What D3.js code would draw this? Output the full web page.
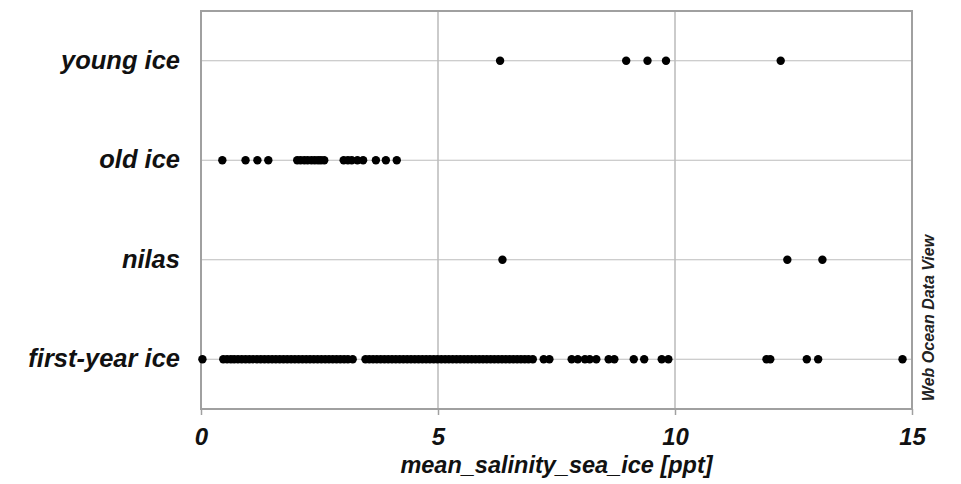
<!DOCTYPE html>
<html>
<head>
<meta charset="utf-8">
<script src="https://cdn.jsdelivr.net/npm/d3@7"></script>
<style>
  body { margin: 0; background: #fff; }
  text { font-family: "Liberation Sans", Arial, sans-serif; font-weight: bold; font-style: italic; }
</style>
</head>
<body>
<svg id="chart" width="961" height="484"></svg>
<script>
(function(){

    // categories, top to bottom
    var categories = ["young ice", "old ice", "nilas", "first-year ice"];

    // mean salinity values (ppt)
    var youngIce = [6.31, 8.97, 9.42, 9.81, 12.23];
    var oldIce = [0.45, 0.94, 1.19, 1.42, 2.03, 2.1, 2.18, 2.25, 2.33, 2.4, 2.47, 2.53, 2.6,
                  3.01, 3.1, 3.18, 3.3, 3.42, 3.69, 3.9, 4.13];
    var nilas = [6.36, 12.37, 13.11];
    var firstYearIce = [0.03, 0.47, 0.55, 0.63, 0.7, 0.78, 0.86, 0.94, 1.02, 1.1, 1.18, 1.26, 1.34,
                        1.42, 1.5, 1.58, 1.66, 1.74, 1.82, 1.9, 1.98, 2.06, 2.14, 2.22, 2.3, 2.38,
                        2.46, 2.54, 2.62, 2.7, 2.78, 2.86, 2.94, 3.02, 3.1, 3.2,
                        3.47, 3.55, 3.63, 3.71, 3.79, 3.87, 3.95, 4.03, 4.11, 4.19, 4.27, 4.35,
                        4.43, 4.51, 4.59, 4.67, 4.75, 4.83, 4.91, 4.99, 5.07, 5.15, 5.23, 5.31,
                        5.39, 5.47, 5.55, 5.63, 5.71, 5.79, 5.87, 5.95, 6.03, 6.11, 6.19, 6.27,
                        6.35, 6.43, 6.51, 6.59, 6.67, 6.75, 6.83, 6.91, 7.0, 7.23, 7.35,
                        7.82, 7.95, 8.1, 8.2, 8.34, 8.6, 8.72, 9.13, 9.35, 9.72, 9.86,
                        11.93, 12.01, 12.78, 13.02, 14.8];

    var xTicks = [0, 5, 10, 15];

    var seriesByCategory = {
        "young ice": youngIce,
        "old ice": oldIce,
        "nilas": nilas,
        "first-year ice": firstYearIce
    };

    var svg = d3.select("#chart"),
        margin = { top: 11, right: 49, bottom: 75, left: 201 },
        width = +svg.attr("width") - margin.left - margin.right,
        height = +svg.attr("height") - margin.top - margin.bottom,
        g = svg.append("g").attr("transform", "translate(" + margin.left + "," + margin.top + ")");

    var x = d3.scaleLinear().domain([0, 15]).range([0, width]);
    var y = d3.scalePoint().domain(categories).range([0, height]).padding(0.5);

    // grid
    g.append("g").selectAll("line.vgrid")
        .data(xTicks.slice(1, -1))
        .enter().append("line")
        .attr("x1", function (d) { return x(d); })
        .attr("x2", function (d) { return x(d); })
        .attr("y1", 0).attr("y2", height)
        .attr("stroke", "#a8a8a8").attr("stroke-width", 1.2);

    g.append("g").selectAll("line.hgrid")
        .data(categories)
        .enter().append("line")
        .attr("x1", 0).attr("x2", width)
        .attr("y1", function (d) { return y(d); })
        .attr("y2", function (d) { return y(d); })
        .attr("stroke", "#bdbdbd").attr("stroke-width", 1.2);

    // frame
    g.append("rect")
        .attr("width", width).attr("height", height)
        .attr("fill", "none").attr("stroke", "#a0a0a0").attr("stroke-width", 2);

    // x axis
    var xAxis = g.append("g")
        .attr("transform", "translate(0," + height + ")")
        .call(d3.axisBottom(x).tickValues(xTicks).tickSize(6).tickPadding(13));
    xAxis.select(".domain").remove();
    xAxis.selectAll(".tick line").attr("stroke", "#a0a0a0").attr("stroke-width", 1.5);
    xAxis.selectAll(".tick text")
        .attr("fill", "#111")
        .style("font-size", "24px")
        .style("font-family", "'Liberation Sans', Arial, sans-serif")
        .style("font-weight", "bold").style("font-style", "italic");

    // y axis labels
    var yAxis = g.append("g")
        .call(d3.axisLeft(y).tickSize(0).tickPadding(21));
    yAxis.select(".domain").remove();
    yAxis.selectAll(".tick text")
        .attr("fill", "#111")
        .attr("dy", "0.3em")
        .style("font-size", "25.5px")
        .style("font-family", "'Liberation Sans', Arial, sans-serif")
        .style("font-weight", "bold").style("font-style", "italic");

    // points
    var points = [];
    categories.forEach(function (c) {
        seriesByCategory[c].forEach(function (v) { points.push({ cat: c, value: v }); });
    });

    g.append("g").selectAll("circle")
        .data(points)
        .enter().append("circle")
        .attr("cx", function (d) { return x(d.value); })
        .attr("cy", function (d) { return y(d.cat); })
        .attr("r", 4.2)
        .attr("fill", "#000");

    // axis title
    svg.append("text")
        .attr("x", margin.left + width / 2)
        .attr("y", 473)
        .attr("text-anchor", "middle")
        .attr("fill", "#111")
        .style("font-size", "23.5px")
        .text("mean_salinity_sea_ice [ppt]");

    // watermark
    svg.append("text")
        .attr("transform", "translate(934,318) rotate(-90)")
        .attr("text-anchor", "middle")
        .attr("fill", "#222")
        .style("font-size", "16px")
        .text("Web Ocean Data View");

})();
</script>
</body>
</html>
